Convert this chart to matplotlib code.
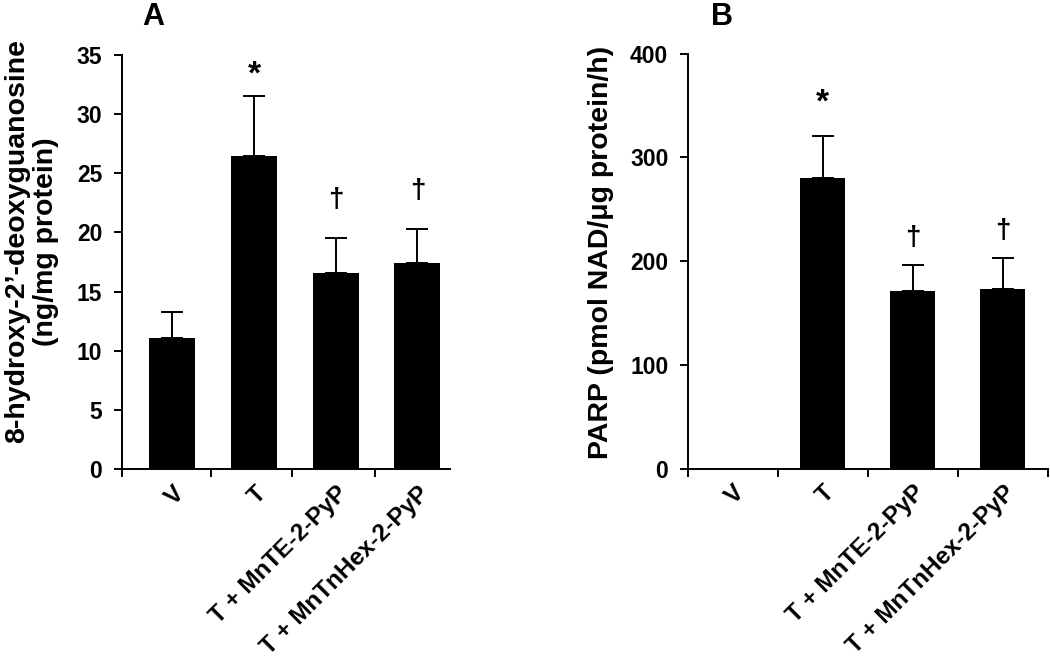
import matplotlib
matplotlib.use("Agg")
import matplotlib.pyplot as plt
import numpy as np

plt.rcParams['font.family'] = ['Liberation Sans', 'DejaVu Sans']
plt.rcParams['font.weight'] = 'bold'

categories = ["V", "T", "T + MnTE-2-PyP", "T + MnTnHex-2-PyP"]

# Panel A: 8-OHdG
a_means = [11.1, 26.5, 16.6, 17.4]
a_errs = [2.2, 5.0, 2.9, 2.9]
a_marks = ["", "*", "\u2020", "\u2020"]
a_yticks = [0, 5, 10, 15, 20, 25, 30, 35]

# Panel B: PARP
b_means = [0, 280, 171, 173]
b_errs = [0, 41, 25, 30]
b_marks = ["", "*", "\u2020", "\u2020"]
b_yticks = [0, 100, 200, 300, 400]

fig = plt.figure(figsize=(10.5, 6.61), dpi=100)
axA = fig.add_axes([0.1159, 0.290, 0.3127, 0.627])
axB = fig.add_axes([0.655, 0.291, 0.343, 0.628])


def draw(ax, means, errs, marks, yticks, width, xlim, minor, ylabel, letter, letter_x,
         star_off, dag_off, label_dx):
    x = np.arange(len(categories))
    means = np.array(means, dtype=float)
    errs = np.array(errs, dtype=float)
    ax.bar(x, means, width=width, color='black', edgecolor='black', linewidth=0, zorder=2)
    m = errs > 0
    ax.errorbar(x[m], means[m], yerr=[np.zeros(m.sum()), errs[m]], fmt='none',
                ecolor='black', elinewidth=1.4, capsize=8, capthick=1.4, zorder=1)
    for xi, mu, e, mk in zip(x, means, errs, marks):
        if mk:
            off = star_off if mk == "*" else dag_off
            fs = 24 if mk == "*" else 20
            ax.annotate(mk, (xi, mu + e), xytext=(0, off), textcoords='offset points',
                        ha='center', va='bottom', fontsize=fs, fontweight='bold')
    ax.set_ylim(yticks[0], yticks[-1])
    ax.set_yticks(yticks)
    ax.set_xlim(*xlim)
    ax.set_xticks(x)
    ax.set_xticklabels([])
    ax.set_xticks(minor, minor=True)
    ax.tick_params(axis='x', which='major', length=0)
    ax.tick_params(axis='x', which='minor', length=6, width=1.4, direction='out')
    ax.tick_params(axis='y', length=6, width=1.4, direction='out', labelsize=16.5, pad=8)
    for lab in ax.get_yticklabels():
        lab.set_fontweight('bold')
    for xi, c in zip(x, categories):
        ax.annotate(c, (xi, 0), xycoords=('data', 'axes fraction'),
                    xytext=(label_dx, -9), textcoords='offset points',
                    rotation=45, ha='right', va='top', rotation_mode='anchor',
                    fontsize=17.5, fontweight='bold')
    for s in ['top', 'right']:
        ax.spines[s].set_visible(False)
    for s in ['left', 'bottom']:
        ax.spines[s].set_linewidth(1.4)
    ax.set_ylabel(ylabel, fontsize=20.5, fontweight='bold', linespacing=1.15)
    fig.text(letter_x, 0.975, letter, fontsize=22, fontweight='bold', ha='center', va='center')


draw(axA, a_means, a_errs, a_marks, a_yticks, 0.56, (-0.62, 3.4), [-0.62, 0.47, 1.47, 2.48],
     "8-hydroxy-2\u2019-deoxyguanosine\n(ng/mg protein)", "A", 0.146, 4, 18, 0)
draw(axB, b_means, b_errs, b_marks, b_yticks, 0.5, (-0.5, 3.5), [-0.5, 0.5, 1.5, 2.5, 3.5],
     "PARP (pmol NAD/\u03bcg protein/h)", "B", 0.688, 12, 10, 0)

axA.yaxis.set_label_coords(-0.19, 0.55)
axB.yaxis.set_label_coords(-0.205, 0.52)

fig.savefig("out.png", dpi=100, facecolor='white')
